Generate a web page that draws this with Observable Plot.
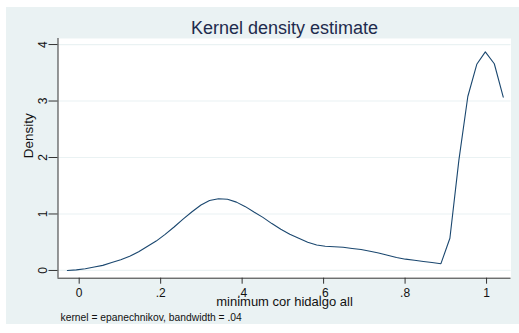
<!DOCTYPE html>
<html>
<head>
<meta charset="utf-8">
<script src="https://cdn.jsdelivr.net/npm/d3@7"></script>
<script src="https://cdn.jsdelivr.net/npm/@observablehq/plot@0.6"></script>
<style>
  html, body { margin: 0; padding: 0; background: #ffffff; }
  #wrap { position: relative; width: 519px; height: 333px; overflow: hidden; }
  #bg { position: absolute; left: 6px; top: 7px; width: 513px; height: 317px; background: #eaf2f3; }
  #chart { position: absolute; left: 0; top: 0; }
  svg { font-family: "Liberation Sans", Arial, Helvetica, sans-serif; }
</style>
</head>
<body>
<div id="wrap"><div id="bg"></div><div id="chart"></div></div>
<script>
// Evaluation points of the kernel density estimate (minimum cor hidalgo all)
const xValues = [
  -0.029, -0.007, 0.015, 0.037, 0.058, 0.080, 0.102, 0.124, 0.146, 0.168,
  0.189, 0.211, 0.233, 0.255, 0.277, 0.299, 0.320, 0.342, 0.364, 0.386,
  0.408, 0.430, 0.451, 0.473, 0.495, 0.517, 0.539, 0.561, 0.583, 0.604,
  0.626, 0.648, 0.670, 0.692, 0.714, 0.735, 0.757, 0.779, 0.801, 0.823,
  0.845, 0.866, 0.888, 0.910, 0.932, 0.954, 0.976, 0.997, 1.019, 1.041
];
// Density values
const densityValues = [
  0.00, 0.01, 0.03, 0.06, 0.09, 0.14, 0.19, 0.25, 0.33, 0.43,
  0.52, 0.64, 0.77, 0.91, 1.04, 1.16, 1.24, 1.27, 1.26, 1.21,
  1.13, 1.03, 0.94, 0.83, 0.73, 0.64, 0.57, 0.50, 0.45, 0.43,
  0.42, 0.41, 0.39, 0.37, 0.34, 0.31, 0.27, 0.23, 0.20, 0.18,
  0.16, 0.14, 0.12, 0.57, 1.95, 3.08, 3.65, 3.87, 3.66, 3.07
];
const xTicks = [0, 0.2, 0.4, 0.6, 0.8, 1];
const yTicks = [0, 1, 2, 3, 4];
const titleText = "Kernel density estimate";
const xLabel = "minimum cor hidalgo all";
const yLabel = "Density";
const noteText = "kernel = epanechnikov, bandwidth = .04";

const data = xValues.map((x, i) => ({x, y: densityValues[i]}));
const xDomain = [-0.052, 1.06];
const yDomain = [-0.137, 4.107];
const fmt = d => d === 0 ? "0" : d === 1 ? "1" : String(d).replace(/^0\./, ".");

const chart = Plot.plot({
  width: 519,
  height: 333,
  marginLeft: 57.5,
  marginRight: 8.5,
  marginTop: 38,
  marginBottom: 55.3,
  style: { background: "transparent", fontFamily: "Liberation Sans, Arial, sans-serif" },
  x: { domain: xDomain, label: null },
  y: { domain: yDomain, label: null },
  marks: [
    Plot.frame({ fill: "white", stroke: null }),
    Plot.ruleY(yTicks, { stroke: "#eaf2f3", strokeWidth: 1.2 }),
    Plot.line(data, { x: "x", y: "y", stroke: "#1a476f", strokeWidth: 1.1 }),
    Plot.ruleY([yDomain[0]], { stroke: "#333", strokeWidth: 1 }),
    Plot.ruleX([xDomain[0]], { stroke: "#333", strokeWidth: 1 }),
    Plot.axisX({ ticks: xTicks, tickSize: 6, tickPadding: 4.5, tickFormat: fmt, fontSize: 12, label: null, stroke: "#333", fill: "#111" }),
    Plot.axisY({ ticks: yTicks, tickSize: 9, tickFormat: () => "", label: null, stroke: "#333" }),
    Plot.text(yTicks, { y: d => d, text: d => String(d), frameAnchor: "left", dx: -15, rotate: -90, fontSize: 12, fill: "#111", lineAnchor: "middle", textAnchor: "middle" }),
    Plot.text([titleText], { text: d => d, frameAnchor: "top", dy: -5, lineAnchor: "bottom", fontSize: 18, fill: "#1e2b4d" }),
    Plot.text([xLabel], { text: d => d, frameAnchor: "bottom", dy: 27.3, lineAnchor: "bottom", fontSize: 13, fill: "#111" }),
    Plot.text([yLabel], { text: d => d, frameAnchor: "left", dx: -29.5, rotate: -90, lineAnchor: "middle", fontSize: 13.5, fill: "#111" }),
    Plot.text([noteText], { text: d => d, frameAnchor: "bottom-left", dx: 2.5, dy: 42.3, lineAnchor: "bottom", textAnchor: "start", fontSize: 10.3, fill: "#111" })
  ]
});
document.getElementById("chart").appendChild(chart);
</script>
</body>
</html>
